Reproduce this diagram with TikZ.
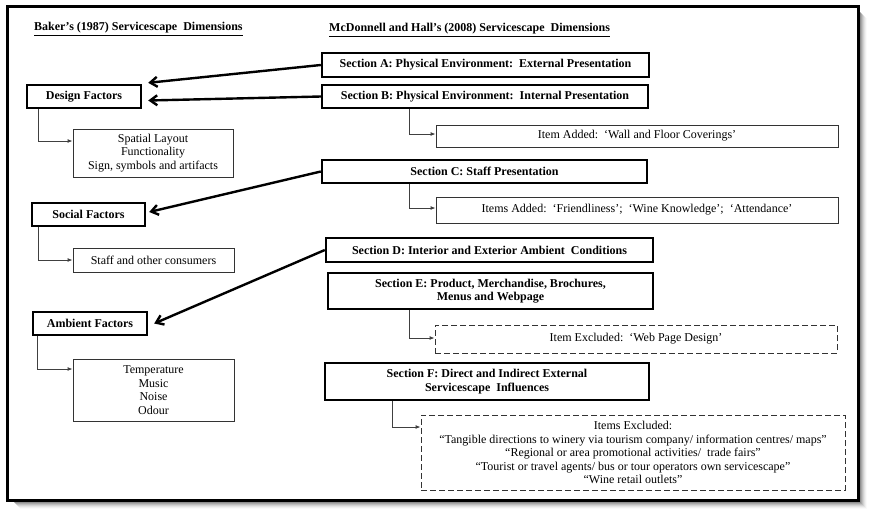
\documentclass[tikz,border=0pt]{standalone}
\usepackage{fontspec}
\setmainfont{Liberation Serif}
\usetikzlibrary{arrows.meta}
\newcommand\myfs{\fontsize{12}{13.5}\selectfont}
\begin{document}
\begin{tikzpicture}[x=1pt,y=-1pt,
 base/.style={font=\myfs, inner sep=0pt, align=center},
 secbox/.style={base, draw=black, line width=2.4pt, font=\myfs\bfseries},
 itembox/.style={base, draw=black!80, line width=0.9pt},
 dashbox/.style={itembox, dash pattern=on 6pt off 3pt},
 conn/.style={draw=black!75, line width=0.9pt, -{Latex[length=5pt,width=4pt]}},
 bigarrow/.style={line width=2.4pt, -{Straight Barb[length=7pt,width=10pt]}},
 header/.style={base, anchor=west, font=\myfs\bfseries}
]
\useasboundingbox (0,0) rectangle (872,517);
\fill[white] (0,0) rectangle (872,517);
% shadow
\foreach \i/\o in {1/0.35,2/0.28,3/0.22,4/0.16,5/0.11,6/0.07,7/0.04,8/0.02}
  \draw[black, opacity=\o, line width=2pt] (858+\i,10+\i) -- (858+\i,500+\i) -- (12+\i,500+\i);
% frame
\draw[line width=3pt] (7,6) rectangle (858,500);

% headers
\node[header] (h1) at (34,29) {\underline{Baker’s (1987) Servicescape\ \ Dimensions}};
\node[header] (h2) at (329,30) {\underline{McDonnell and Hall’s (2008) Servicescape\ \ Dimensions}};

% left column
\node[secbox, minimum width=114pt, minimum height=23pt] (DF) at (84,96.5) {Design Factors};
\node[secbox, minimum width=113pt, minimum height=23pt] (SF) at (88.5,214.5) {Social Factors};
\node[secbox, minimum width=114pt, minimum height=23pt] (AF) at (90,323.5) {Ambient Factors};
\node[itembox, minimum width=160pt, minimum height=48pt] (SP) at (153,153) {Spatial Layout\\Functionality\\Sign, symbols and artifacts};
\node[itembox, minimum width=161pt, minimum height=24pt] (ST) at (153.5,260) {Staff and other consumers};
\node[itembox, minimum width=161pt, minimum height=62pt] (TM) at (153.5,390) {Temperature\\Music\\Noise\\Odour};

% right column
\node[secbox, minimum width=327pt, minimum height=24pt] (A) at (485.5,65) {Section A: Physical Environment:\ \ External Presentation};
\node[secbox, minimum width=326pt, minimum height=23pt] (B) at (485,96.5) {Section B: Physical Environment:\ \ Internal Presentation};
\node[itembox, minimum width=402pt, minimum height=22pt] (W) at (637,136) {Item Added:\ \ ‘Wall and Floor Coverings’};
\node[secbox, minimum width=325pt, minimum height=23pt] (C) at (484.5,171.5) {Section C: Staff Presentation};
\node[itembox, minimum width=402pt, minimum height=26pt] (FR) at (637,210) {Items Added:\ \ ‘Friendliness’;\ \ ‘Wine Knowledge’;\ \ ‘Attendance’};
\node[secbox, minimum width=327pt, minimum height=24pt] (D) at (489.5,250) {Section D: Interior and Exterior Ambient\ \ Conditions};
\node[secbox, minimum width=325pt, minimum height=36pt] (E) at (490.5,291) {Section E: Product, Merchandise, Brochures,\\Menus and Webpage};
\node[dashbox, minimum width=402pt, minimum height=28pt] (WB) at (636,339) {Item Excluded:\ \ ‘Web Page Design’};
\node[secbox, minimum width=324pt, minimum height=37pt] (F) at (487,381.5) {Section F: Direct and Indirect External\\Servicescape\ \ Influences};
\node[dashbox, minimum width=424pt, minimum height=75pt] (IE) at (633,452.5) {Items Excluded:\\“Tangible directions to winery via tourism company/\ information centres/\ maps”\\“Regional or area promotional activities/\ \ trade fairs”\\“Tourist or travel agents/\ bus or tour operators own servicescape”\\“Wine retail outlets”};

% thin connectors
\draw[conn] ([xshift=13pt]DF.south west) |- ([yshift=12pt]SP.west);
\draw[conn] ([xshift=8pt]SF.south west) |- (ST.west);
\draw[conn] ([xshift=6pt]AF.south west) |- ([yshift=21pt]TM.west);
\draw[conn] ([xshift=89pt]B.south west) |- ([yshift=2pt]W.west);
\draw[conn] ([xshift=89pt]C.south west) |- ([yshift=2pt]FR.west);
\draw[conn] ([xshift=83pt]E.south west) |- ([yshift=1pt]WB.west);
\draw[conn] ([xshift=69pt]F.south west) |- ([yshift=25.5pt]IE.west);

% thick arrows
\draw[bigarrow] (A.west) -- ([xshift=6pt,yshift=1pt]DF.north east);
\draw[bigarrow] (B.west) -- ([xshift=6pt,yshift=-4pt]DF.east);
\draw[bigarrow] (C.west) -- ([xshift=3pt,yshift=2.5pt]SF.east);
\draw[bigarrow] (D.west) -- ([xshift=6pt]AF.east);
\end{tikzpicture}
\end{document}
